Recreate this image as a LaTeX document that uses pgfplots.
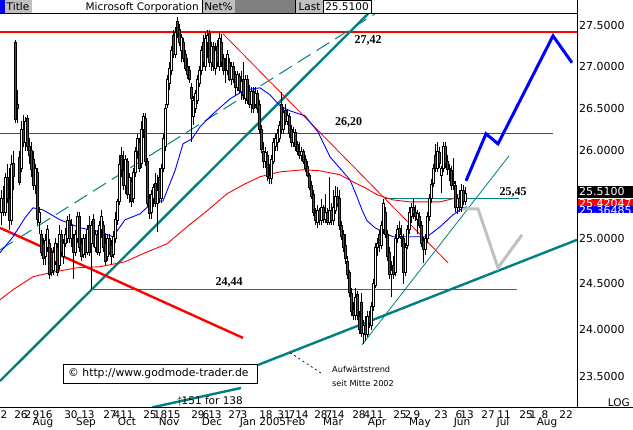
\documentclass[border=0pt]{standalone}
\usepackage{fontspec}
\setmainfont{DejaVu Sans}
\newfontfamily\numserif{Liberation Serif}
\usepackage{pgfplots}
\usepackage{pgfplotstable}
\pgfplotsset{compat=1.18}

\definecolor{gmteal}{RGB}{0,128,128}
\definecolor{gmred}{RGB}{255,0,0}
\definecolor{gmblue}{RGB}{0,0,255}
\definecolor{gmgrey}{RGB}{192,192,192}
\definecolor{hdark}{RGB}{128,128,128}

% daily candles: d = trading day, o h l c
\pgfplotstableread{
d o h l c
0 25.30 25.55 25.15 25.45
1 25.45 25.60 25.25 25.30
2 25.30 25.75 25.25 25.70
3 25.70 25.85 25.40 25.45
4 25.45 25.80 25.10 25.20
5 25.20 25.95 25.15 25.85
6 25.85 26.00 25.55 25.70
7 27.30 27.32 26.33 26.37
8 26.55 26.72 26.33 26.50
9 25.93 26.00 25.60 25.64
10 25.80 26.35 25.75 26.25
11 26.25 26.42 26.05 26.10
12 26.10 26.40 26.00 26.35
13 26.38 26.42 26.00 26.05
14 26.05 26.15 25.85 25.95
15 26.00 26.10 25.70 25.78
16 25.90 26.00 25.55 25.60
17 25.60 25.85 25.50 25.80
18 25.75 25.80 25.15 25.22
19 25.18 25.35 25.05 25.30
20 25.05 25.10 24.80 24.85
21 24.95 25.00 24.70 24.78
22 24.80 25.05 24.70 24.98
23 24.90 25.15 24.85 25.10
24 24.95 25.00 24.55 24.60
25 24.85 24.90 24.58 24.62
26 24.65 24.90 24.60 24.85
27 24.75 25.00 24.70 24.95
28 24.90 24.95 24.58 24.62
29 24.70 25.15 24.65 25.05
30 25.05 25.10 24.80 24.85
31 24.80 25.00 24.72 24.95
32 24.95 25.12 24.90 25.05
33 25.00 25.25 24.95 25.20
34 25.20 25.28 24.95 25.00
35 25.00 25.22 24.90 25.15
36 25.00 25.05 24.55 24.85
37 24.85 25.10 24.80 25.05
38 25.00 25.30 24.95 25.25
39 25.25 25.30 24.85 24.90
40 24.95 25.00 24.75 24.80
41 24.82 25.05 24.78 25.00
42 25.00 25.05 24.78 24.85
43 24.85 25.15 24.82 25.10
44 25.15 25.25 24.80 24.85
45 24.95 25.20 24.44 25.15
46 25.22 25.28 24.90 24.95
47 24.90 25.10 24.85 25.05
48 25.05 25.10 24.82 24.85
49 24.85 25.20 24.80 25.15
50 25.10 25.32 25.00 25.25
51 25.15 25.20 24.85 24.90
52 24.95 25.05 24.70 24.75
53 24.80 25.05 24.75 25.00
54 25.00 25.05 24.82 24.85
55 24.92 24.98 24.72 24.80
56 24.82 25.08 24.78 25.02
57 25.00 25.30 24.95 25.22
58 25.20 25.45 25.15 25.42
59 25.42 25.95 25.38 25.85
60 25.95 26.05 25.70 25.78
61 25.78 26.00 25.55 25.60
62 25.60 25.95 25.50 25.90
63 25.88 25.92 25.45 25.50
64 25.50 25.75 25.40 25.70
65 25.65 25.70 25.35 25.42
66 25.45 25.80 25.40 25.75
67 25.75 26.05 25.70 26.00
68 26.00 26.20 25.90 26.15
69 26.10 26.15 25.75 25.80
70 25.85 26.35 25.80 26.25
71 26.25 26.45 26.15 26.40
72 26.38 26.45 25.82 25.88
73 25.88 25.92 25.35 25.40
74 25.45 25.50 25.22 25.28
75 25.30 25.55 25.22 25.50
76 25.45 25.62 25.35 25.58
77 25.62 25.75 25.35 25.40
78 25.40 25.72 25.07 25.55
79 25.70 25.80 25.40 25.45
80 25.45 25.85 25.40 25.80
81 25.80 26.20 25.75 26.15
82 26.05 26.55 26.00 26.50
83 26.55 26.90 26.50 26.85
84 26.80 27.05 26.72 26.98
85 26.95 27.25 26.90 27.20
86 27.38 27.45 27.10 27.15
87 27.15 27.48 27.10 27.42
88 27.55 27.60 27.35 27.40
89 27.45 27.52 27.25 27.30
90 27.20 27.40 27.05 27.35
91 27.30 27.35 27.05 27.10
92 27.15 27.20 26.95 26.98
93 27.00 27.10 26.85 26.90
94 26.95 27.00 26.80 26.85
95 26.75 26.80 26.10 26.62
96 26.40 26.65 26.30 26.60
97 26.50 26.72 26.45 26.68
98 26.60 26.90 26.55 26.85
99 26.80 27.00 26.75 26.95
100 26.95 27.25 26.90 27.20
101 27.30 27.38 27.00 27.05
102 27.00 27.42 26.95 27.35
103 27.30 27.45 27.10 27.38
104 27.40 27.45 27.00 27.05
105 27.05 27.30 26.95 27.25
106 27.25 27.30 26.95 27.00
107 26.98 27.28 26.90 27.20
108 27.25 27.32 27.00 27.05
109 27.00 27.42 26.95 27.35
110 27.30 27.40 27.00 27.05
111 27.10 27.15 26.90 26.95
112 27.00 27.10 26.80 26.98
113 26.95 27.20 26.90 27.15
114 27.05 27.10 26.82 26.85
115 26.85 27.05 26.78 27.00
116 27.00 27.05 26.80 26.85
117 26.90 26.95 26.65 26.75
118 26.75 26.95 26.70 26.90
119 26.88 26.92 26.68 26.72
120 26.70 26.95 26.60 26.82
121 26.85 27.05 26.60 26.65
122 26.62 26.90 26.55 26.85
123 26.85 26.90 26.55 26.60
124 26.70 26.78 26.50 26.55
125 26.55 26.75 26.45 26.70
126 26.70 26.75 26.45 26.50
127 26.55 26.75 26.50 26.68
128 26.68 26.72 26.45 26.50
129 26.55 26.60 26.20 26.25
130 26.25 26.30 25.98 26.02
131 26.00 26.10 25.80 25.88
132 25.88 26.05 25.80 25.98
133 25.95 26.00 25.65 25.70
134 25.72 25.85 25.62 25.68
135 25.68 25.95 25.62 25.90
136 25.88 26.15 25.85 26.10
137 26.05 26.20 26.00 26.15
138 26.10 26.25 26.00 26.20
139 26.15 26.35 26.10 26.30
140 26.55 26.70 26.20 26.25
141 26.25 26.50 26.20 26.45
142 26.48 26.55 26.30 26.35
143 26.35 26.48 26.30 26.42
144 26.40 26.45 26.15 26.20
145 26.25 26.30 26.05 26.10
146 26.10 26.28 26.05 26.22
147 26.22 26.25 26.00 26.05
148 26.08 26.12 25.95 26.00
149 26.00 26.10 25.90 25.95
150 25.95 26.05 25.88 26.00
151 26.00 26.02 25.85 25.88
152 25.90 25.95 25.75 25.80
153 25.82 25.88 25.70 25.72
154 25.72 25.75 25.55 25.58
155 25.60 25.65 25.45 25.48
156 25.50 25.55 25.25 25.30
157 25.30 25.35 25.15 25.20
158 25.18 25.38 25.12 25.32
159 25.32 25.35 25.15 25.20
160 25.20 25.45 25.15 25.35
161 25.35 25.38 25.18 25.22
162 25.22 25.50 25.18 25.30
163 25.30 25.35 25.15 25.18
164 25.18 25.70 25.15 25.32
165 25.32 25.40 25.15 25.20
166 25.20 25.55 25.15 25.35
167 25.32 25.60 25.28 25.48
168 25.48 25.58 25.35 25.40
169 25.45 25.55 25.10 25.15
170 25.15 25.20 24.98 25.02
171 25.05 25.10 24.85 24.90
172 24.92 25.05 24.72 24.78
173 24.75 24.80 24.55 24.60
174 24.62 24.65 24.35 24.40
175 24.40 24.45 24.15 24.20
176 24.22 24.30 24.10 24.15
177 24.15 24.45 24.10 24.35
178 24.38 24.42 24.10 24.15
179 24.15 24.20 23.95 24.00
180 24.30 24.40 23.92 23.96
181 23.96 24.10 23.85 24.05
182 24.05 24.15 23.88 23.95
183 23.95 24.20 23.92 24.15
184 24.15 24.20 24.02 24.08
185 24.05 24.30 24.00 24.25
186 24.25 24.55 24.20 24.50
187 24.48 24.95 24.45 24.90
188 24.90 25.00 24.80 24.95
189 25.05 25.10 24.85 24.92
190 24.92 25.20 24.88 25.15
191 25.10 25.45 25.05 25.40
192 25.30 25.35 25.00 25.05
193 25.05 25.10 24.75 24.80
194 24.85 24.90 24.55 24.60
195 24.60 24.75 24.35 24.65
196 24.70 24.80 24.55 24.60
197 24.62 25.05 24.58 25.00
198 25.00 25.15 24.95 25.10
199 25.12 25.20 25.00 25.05
200 25.02 25.15 24.90 25.00
201 25.00 25.05 24.50 24.62
202 24.62 24.95 24.58 24.90
203 24.92 25.15 24.88 25.10
204 25.10 25.35 25.05 25.30
205 25.25 25.40 25.18 25.35
206 25.35 25.45 25.22 25.28
207 25.30 25.38 25.20 25.25
208 25.22 25.32 25.05 25.28
209 25.25 25.30 25.12 25.15
210 25.15 25.20 24.90 24.95
211 24.98 25.02 24.73 24.88
212 24.88 25.05 24.82 25.00
213 25.00 25.30 24.95 25.25
214 25.25 25.50 25.20 25.45
215 25.45 25.68 25.40 25.62
216 25.62 25.85 25.58 25.80
217 25.95 26.08 25.75 25.80
218 25.80 26.10 25.75 26.00
219 25.98 26.05 25.80 25.85
220 25.72 25.82 25.52 25.80
221 25.80 26.10 25.75 26.05
222 26.05 26.10 25.80 25.85
223 25.88 25.95 25.72 25.78
224 25.78 25.85 25.65 25.80
225 25.78 25.82 25.55 25.60
226 25.65 25.92 25.55 25.62
227 25.60 25.65 25.30 25.35
228 25.35 25.50 25.28 25.45
229 25.45 25.55 25.30 25.35
230 25.35 25.62 25.30 25.55
231 25.55 25.60 25.38 25.42
232 25.42 25.58 25.38 25.51
}\candles

\newcommand\xfont{\fontsize{10.5}{12}\selectfont}
\newcommand\yfont{\fontsize{11}{13}\selectfont}
\newcommand\hfont{\fontsize{10.5}{12}\selectfont}

% candle marks: lengths in pt come from the data (axis scale 2234.3 pt per unit of ln)
\pgfdeclareplotmark{cwick}{%
  \pgfpathmoveto{\pgfpointorigin}%
  \pgfpathlineto{\pgfpoint{0pt}{\cwlen pt}}%
  \pgfusepathqstroke}
\pgfdeclareplotmark{cbody}{%
  \pgfpathrectangle{\pgfpoint{-1.2pt}{0pt}}{\pgfpoint{2.4pt}{\cblen pt}}%
  \pgfusepathqfillstroke}

\tikzset{
  lvl/.style={font=\numserif\bfseries\fontsize{12}{14}\selectfont, inner sep=0pt, anchor=base},
  hdr/.style={font=\hfont, inner sep=0pt, anchor=base},
}

\begin{document}
\begin{tikzpicture}[x=1pt,y=1pt]
\begin{axis}[
    at={(0pt,22pt)}, anchor=south west,
    scale only axis, width=577pt, height=394pt,
    xmin=0, xmax=577,
    % logarithmic price scale
    y coord trafo/.code={\pgfmathparse{ln(#1)}},
    y coord inv trafo/.code={\pgfmathparse{exp(#1)}},
    ymin=23.175, ymax=27.644,
    axis line style={draw=none},
    major tick length=0pt,
    xtick={4,21,28,36,46,71,88,110,117,127,150,157,164,174,198,206,215,235,244,266,284,292,302,321,329,338,359,367,377,400,408,417,441,459,467,488,504,526,533,545,566},
    xticklabels={2,26,2,9,16,30,13,27,4,11,25,1,8,15,29,6,13,27,3,18,31,7,14,28,7,14,28,4,11,25,2,9,23,6,13,27,11,25,1,8,22},
    xticklabel style={font=\xfont, anchor=base, inner sep=0pt, yshift=-10.3pt},
    extra x ticks={43,86,127,169,212,263,296,333,377,420,462,503,547},
    extra x tick labels={Aug,Sep,Oct,Nov,Dec,Jan 2005,Feb,Mar,Apr,May,Jun,Jul,Aug},
    extra x tick style={xticklabel style={yshift=-7.7pt}},
    ytick={23.5,24,24.5,25,25.5,26,26.5,27,27.5},
    yticklabels={23.5000,24.0000,24.5000,25.0000,25.5000,26.0000,26.5000,27.0000,27.5000},
    yticklabel pos=right,
    yticklabel style={font=\yfont, anchor=west, inner sep=0pt, xshift=2pt},
]
% support and resistance lines
\addplot[gmred, line width=2pt] coordinates {(0,27.42) (577,27.42)};
\addplot[gmred, line width=1.2pt] coordinates {(0,26.20) (553,26.20)};
\addplot[gmteal, line width=1.2pt] coordinates {(90,24.44) (517,24.44)};
\addplot[gmteal, line width=1.2pt] coordinates {(385,25.45) (519,25.45)};
\addplot[gmteal, line width=2.4pt] coordinates {(0,23.456) (368,27.644)};
\addplot[gmteal, line width=2.4pt] coordinates {(258,23.625) (577,24.985)};
\addplot[gmteal, line width=2.4pt] coordinates {(152,23.18) (241,23.383)};
\addplot[gmteal, line width=1pt, dash pattern=on 15pt off 7pt] coordinates {(0,24.873) (375,27.644)};
\addplot[gmred, line width=0.8pt] coordinates {(223,27.398) (448,24.729)};
\addplot[gmred, line width=2.4pt] coordinates {(0,25.119) (243,23.912)};
\addplot[gmteal, line width=0.8pt] coordinates {(362,23.838) (509,25.942)};
\addplot[black, line width=0.7pt, dash pattern=on 2pt off 3pt] coordinates {(290,23.755) (322,23.533)};

% moving averages
\addplot[gmblue, line width=0.9pt] coordinates {
(0,24.841) (13,25.019) (25,25.232) (33,25.345) (43,25.322) (60,25.210) (80,25.120)
(100,25.075) (113,25.019) (125,25.210) (140,25.277) (153,25.413) (163,25.424)
(175,25.769) (183,26.082) (192,26.140) (200,26.281) (213,26.434) (230,26.612)
(245,26.720) (260,26.744) (270,26.66) (280,26.53) (290,26.47) (305,26.41)
(318,26.22) (330,25.931) (350,25.665) (357,25.471) (362,25.322) (367,25.199)
(375,25.120) (393,25.019) (410,25.019) (427,25.019) (440,25.131) (453,25.266)
(463,25.345) (467,25.356)};
\addplot[gmred, line width=0.9pt] coordinates {
(0,24.325) (13,24.434) (33,24.576) (50,24.620) (77,24.675) (100,24.686) (125,24.741)
(145,24.84) (167,24.941) (187,25.131) (207,25.311) (227,25.505) (245,25.619)
(260,25.700) (280,25.757) (303,25.780) (320,25.769) (340,25.723) (353,25.642)
(365,25.574) (377,25.494) (393,25.436) (410,25.413) (427,25.413) (440,25.413)
(453,25.45) (467,25.43)};

% candles: wicks, then down (red) and up (white) bodies
\addplot[only marks, forget plot, mark=cwick, mark options={draw=black, line width=0.8pt},
  visualization depends on={2234.3*ln(\thisrow{h}/\thisrow{l}) \as \cwlen}]
  table[x expr=2*\thisrow{d}+1, y=l] {\candles};
\addplot[only marks, forget plot, mark=cbody, mark options={draw=black, fill=gmred, line width=0.6pt},
  restrict expr to domain={\thisrow{o}-\thisrow{c}}{0.0001:100},
  visualization depends on={max(2234.3*ln(\thisrow{o}/\thisrow{c}),0.4) \as \cblen}]
  table[x expr=2*\thisrow{d}+1, y=c] {\candles};
\addplot[only marks, forget plot, mark=cbody, mark options={draw=black, fill=white, line width=0.6pt},
  restrict expr to domain={\thisrow{c}-\thisrow{o}}{0:100},
  visualization depends on={max(2234.3*ln(\thisrow{c}/\thisrow{o}),0.4) \as \cblen}]
  table[x expr=2*\thisrow{d}+1, y=o] {\candles};

% projections
\addplot[gmgrey, line width=3pt] coordinates {(461,25.334) (478,25.334) (498,24.675) (522,25.041)};
\addplot[gmblue, line width=3pt] coordinates {(466,25.654) (486,26.199) (498,26.082) (553,27.374) (572,27.045)};
\end{axis}

% frame
\draw[line width=1pt] (0,22) -- (633,22);
\draw[line width=1pt] (577,22) -- (577,430);
\draw[line width=1pt] (0,416) -- (577,416);

% level labels
\node[lvl] at (368,386) {27,42};
\node[lvl] at (348.5,304) {26,20};
\node[lvl] at (513,234.5) {25,45};
\node[lvl] at (229,144) {24,44};

% annotations
\draw[fill=white, line width=0.8pt] (63,47) rectangle (257,66);
\node[font=\fontsize{10.8}{12}\selectfont, anchor=base west, inner sep=0pt] at (68,53) {© http://www.godmode-trader.de};
\node[font=\fontsize{10.5}{12}\selectfont, anchor=base west, inner sep=0pt] at (177,25.7) {$\uparrow$\hspace{-1pt}151 for 138};
\node[font=\fontsize{8.2}{10}\selectfont, anchor=base west, inner sep=0pt] at (332,57) {Aufwärtstrend};
\node[font=\fontsize{8.2}{10}\selectfont, anchor=base west, inner sep=0pt] at (332,43.5) {seit Mitte 2002};
\node[font=\fontsize{10.5}{12}\selectfont, anchor=base east, inner sep=0pt] at (630,23.5) {LOG};

% last value boxes
\fill[black] (578,231.7) rectangle (633,244);
\node[white, font=\yfont, anchor=west, inner sep=0pt] at (579,238) {25.5100};
\begin{scope}
\clip (578,224) rectangle (633,230.8);
\fill[gmred] (578,224) rectangle (633,230.8);
\node[white, font=\yfont, anchor=west, inner sep=0pt] at (579,226.5) {25.42047};
\end{scope}
\begin{scope}
\clip (578,217.3) rectangle (633,224);
\fill[gmblue] (578,217.3) rectangle (633,224);
\node[white, font=\yfont, anchor=west, inner sep=0pt] at (579,219.5) {25.36485};
\end{scope}

% header bar
\fill[gmblue] (0,416.5) rectangle (5,430);
\fill[gmgrey] (5,416.5) rectangle (32,430);
\node[hdr] at (18,419) {Title};
\node[hdr, anchor=base east] at (199,419) {Microsoft Corporation};
\fill[gmgrey] (202,416.5) rectangle (235,430);
\draw[line width=0.6pt] (202,416.5) -- (202,430);
\node[hdr] at (218.5,419) {Net\%};
\fill[hdark] (235,416.5) rectangle (295,430);
\draw[line width=0.6pt] (295.5,416.5) -- (295.5,430);
\fill[gmgrey] (296,416.5) rectangle (323,430);
\node[hdr] at (309.5,419) {Last};
\draw[fill=white, line width=0.8pt] (323,416.5) rectangle (371,430);
\node[hdr] at (347,419) {25.5100};

\pgfresetboundingbox
\path[use as bounding box] (0,0) rectangle (633,430);
\end{tikzpicture}
\end{document}
